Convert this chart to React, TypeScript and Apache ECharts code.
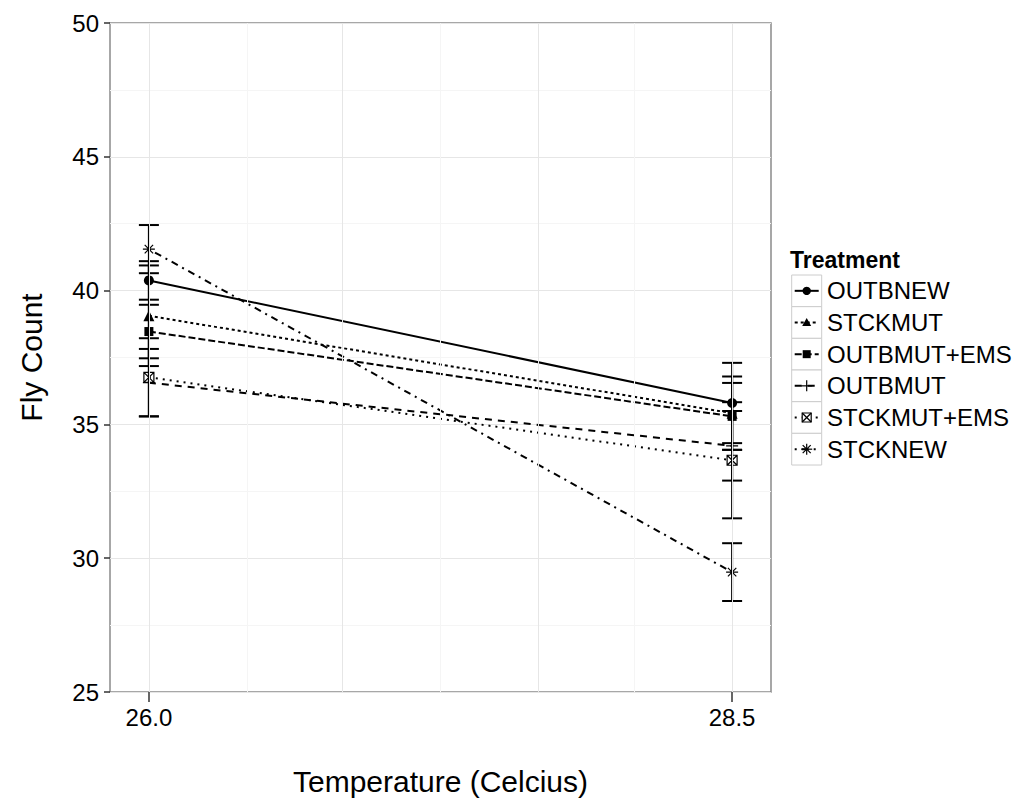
import React, { useEffect, useRef } from "react";
import * as echarts from "echarts";

// ---------------- data ----------------
const temperatures = [26.0, 28.5];
const treatments = ["OUTBNEW", "STCKMUT", "OUTBMUT+EMS", "OUTBMUT", "STCKMUT+EMS", "STCKNEW"];

const meanOUTBNEW = [40.38, 35.8];
const meanSTCKMUT = [39.06, 35.42];
const meanOUTBMUT_EMS = [38.47, 35.3];
const meanOUTBMUT = [36.56, 34.2];
const meanSTCKMUT_EMS = [36.76, 33.66];
const meanSTCKNEW = [41.55, 29.48];

const seOUTBNEW = [0.72, 1.5];
const seSTCKMUT = [1.88, 1.37];
const seOUTBMUT_EMS = [1.0, 1.25];
const seOUTBMUT = [1.26, 1.3];
const seSTCKMUT_EMS = [1.46, 2.17];
const seSTCKNEW = [0.9, 1.08];

const means = [meanOUTBNEW, meanSTCKMUT, meanOUTBMUT_EMS, meanOUTBMUT, meanSTCKMUT_EMS, meanSTCKNEW];
const ses = [seOUTBNEW, seSTCKMUT, seOUTBMUT_EMS, seOUTBMUT, seSTCKMUT_EMS, seSTCKNEW];

const xTickValues = [26.0, 28.5];
const xMajorGrid = [26.0, 26.8333, 27.6667, 28.5];
const xMinorGrid = [26.4167, 27.25, 28.0833];
const yMin = 25;
const yMax = 50;
const yStep = 5;

// ---------------- styles ----------------
const FONT = '"Liberation Sans", Arial, Helvetica, sans-serif';
const PLUS = "path://M5,0L5,10M0,5L10,5";
const SQX = "path://M0,0L10,0L10,10L0,10ZM0,0L10,10M10,0L0,10";
const AST = "path://M5,0L5,10M0,5L10,5M1.5,1.5L8.5,8.5M8.5,1.5L1.5,8.5";

type Sty = { symbol: string; size: number; dash: any; stroked: boolean; kind: string };
const styles: Sty[] = [
  { symbol: "circle", size: 10, dash: "solid", stroked: false, kind: "circle" },
  { symbol: "triangle", size: 11, dash: [3, 3], stroked: false, kind: "triangle" },
  { symbol: "rect", size: 9, dash: [7, 3], stroked: false, kind: "rect" },
  { symbol: PLUS, size: 12, dash: [7, 6], stroked: true, kind: "plus" },
  { symbol: SQX, size: 10, dash: [2, 5], stroked: true, kind: "sqx" },
  { symbol: AST, size: 12, dash: [2, 5, 7, 5], stroked: true, kind: "ast" },
];

function legendSymbol(kind: string, cx: number, cy: number): any[] {
  const s = { stroke: "#000", lineWidth: 1.2 };
  switch (kind) {
    case "circle":
      return [{ type: "circle", shape: { cx, cy, r: 4.2 }, style: { fill: "#000" } }];
    case "triangle":
      return [{ type: "polygon", shape: { points: [[cx, cy - 4.5], [cx + 4.5, cy + 3.5], [cx - 4.5, cy + 3.5]] }, style: { fill: "#000" } }];
    case "rect":
      return [{ type: "rect", shape: { x: cx - 4, y: cy - 4, width: 8, height: 8 }, style: { fill: "#000" } }];
    case "plus":
      return [
        { type: "line", shape: { x1: cx - 5.5, y1: cy, x2: cx + 5.5, y2: cy }, style: s },
        { type: "line", shape: { x1: cx, y1: cy - 5.5, x2: cx, y2: cy + 5.5 }, style: s },
      ];
    case "sqx":
      return [
        { type: "rect", shape: { x: cx - 4.5, y: cy - 4.5, width: 9, height: 9 }, style: { fill: "#fff", stroke: "#000", lineWidth: 1.2 } },
        { type: "line", shape: { x1: cx - 4.5, y1: cy - 4.5, x2: cx + 4.5, y2: cy + 4.5 }, style: s },
        { type: "line", shape: { x1: cx + 4.5, y1: cy - 4.5, x2: cx - 4.5, y2: cy + 4.5 }, style: s },
      ];
    default:
      return [
        { type: "line", shape: { x1: cx - 5.5, y1: cy, x2: cx + 5.5, y2: cy }, style: s },
        { type: "line", shape: { x1: cx, y1: cy - 5.5, x2: cx, y2: cy + 5.5 }, style: s },
        { type: "line", shape: { x1: cx - 4, y1: cy - 4, x2: cx + 4, y2: cy + 4 }, style: s },
        { type: "line", shape: { x1: cx + 4, y1: cy - 4, x2: cx - 4, y2: cy + 4 }, style: s },
      ];
  }
}

export default function App() {
  const ref = useRef<HTMLDivElement>(null);

  useEffect(() => {
    if (!ref.current) return;
    const chart = echarts.init(ref.current, null, { renderer: "svg" });

    const errData: any[] = [];
    treatments.forEach((_, i) => {
      temperatures.forEach((t, j) => {
        errData.push([t, means[i][j] - ses[i][j], means[i][j] + ses[i][j]]);
      });
    });

    const lineSeries = treatments.map((name, i) => {
      const st = styles[i];
      return {
        name,
        type: "line",
        z: 3,
        data: temperatures.map((t, j) => [t, means[i][j]]),
        symbol: st.symbol,
        symbolSize: st.size,
        showSymbol: true,
        lineStyle: { color: "#000", width: 2, type: st.dash },
        itemStyle: st.stroked
          ? { color: "rgba(0,0,0,0)", borderColor: "#000", borderWidth: 1.2 }
          : { color: "#000", borderWidth: 0 },
        emphasis: { disabled: true },
      };
    });

    const gridMarks = [
      ...xMinorGrid.map((v) => ({ xAxis: v, lineStyle: { color: "#f5f5f5", width: 1, type: "solid" } })),
      ...xMajorGrid.map((v) => ({ xAxis: v, lineStyle: { color: "#e6e6e6", width: 1, type: "solid" } })),
    ];

    // legend (ggplot style)
    const rowTop = 275;
    const rowH = 31.67;
    const boxX = 791.7;
    const boxW = 30;
    const legendEls: any[] = [
      {
        type: "text",
        x: 790,
        y: 260,
        style: { text: "Treatment", fontSize: 23, fontWeight: "bold", fontFamily: FONT, fill: "#000", align: "left", verticalAlign: "middle" },
      },
    ];
    treatments.forEach((name, i) => {
      const y0 = rowTop + i * rowH;
      const cy = y0 + rowH / 2;
      const st = styles[i];
      legendEls.push({
        type: "rect",
        shape: { x: boxX, y: y0, width: boxW, height: rowH },
        style: { fill: "#fff", stroke: "#cccccc", lineWidth: 1 },
      });
      legendEls.push({
        type: "line",
        shape: { x1: boxX + 3, y1: cy, x2: boxX + boxW - 3, y2: cy },
        style: { stroke: "#000", lineWidth: 2, lineDash: st.dash === "solid" ? null : st.dash },
      });
      legendSymbol(st.kind, boxX + boxW / 2, cy).forEach((e) => legendEls.push(e));
      legendEls.push({
        type: "text",
        x: 827,
        y: cy,
        style: { text: name, fontSize: 24, fontFamily: FONT, fill: "#000", align: "left", verticalAlign: "middle" },
      });
    });

    chart.setOption({
      animation: false,
      backgroundColor: "#fff",
      textStyle: { fontFamily: FONT },
      grid: {
        left: 110,
        right: 245,
        top: 23,
        bottom: 112,
        show: true,
        borderColor: "#8a8a8a",
        borderWidth: 1.5,
        backgroundColor: "#fff",
      },
      xAxis: {
        type: "value",
        min: 25.8333,
        max: 28.6667,
        name: "Temperature (Celcius)",
        nameLocation: "middle",
        nameGap: 74,
        nameTextStyle: { fontSize: 30, color: "#000", fontFamily: FONT },
        axisLine: { show: false },
        splitLine: { show: false },
        axisTick: { show: true, customValues: xTickValues, length: 10, lineStyle: { color: "#333", width: 1.5 } },
        axisLabel: {
          customValues: xTickValues,
          formatter: (v: number) => v.toFixed(1),
          fontSize: 24,
          color: "#000",
          margin: 13,
          fontFamily: FONT,
        },
      },
      yAxis: {
        type: "value",
        min: yMin,
        max: yMax,
        interval: yStep,
        name: "Fly Count",
        nameLocation: "middle",
        nameGap: 64,
        nameTextStyle: { fontSize: 30, color: "#000", fontFamily: FONT },
        axisLine: { show: false },
        axisTick: { show: true, length: 6, lineStyle: { color: "#333", width: 1.5 } },
        axisLabel: { fontSize: 24, color: "#000", margin: 11, fontFamily: FONT },
        splitLine: { show: true, lineStyle: { color: "#e6e6e6", width: 1 } },
        minorTick: { show: false, splitNumber: 2 },
        minorSplitLine: { show: true, lineStyle: { color: "#f5f5f5", width: 1 } },
      },
      graphic: legendEls,
      series: [
        {
          type: "line",
          name: "grid",
          data: [],
          z: 1,
          silent: true,
          markLine: {
            silent: true,
            symbol: ["none", "none"],
            label: { show: false },
            emphasis: { disabled: true },
            data: gridMarks,
          },
        },
        {
          type: "custom",
          name: "errorbars",
          z: 2,
          silent: true,
          data: errData,
          encode: { x: 0, y: [1, 2] },
          renderItem: (params: any, api: any) => {
            const x = api.value(0);
            const lo = api.coord([x, api.value(1)]);
            const hi = api.coord([x, api.value(2)]);
            const w = 10;
            const st = { stroke: "#000", lineWidth: 2 };
            return {
              type: "group",
              children: [
                { type: "line", shape: { x1: lo[0], y1: lo[1], x2: hi[0], y2: hi[1] }, style: st },
                { type: "line", shape: { x1: lo[0] - w, y1: lo[1], x2: lo[0] + w, y2: lo[1] }, style: st },
                { type: "line", shape: { x1: hi[0] - w, y1: hi[1], x2: hi[0] + w, y2: hi[1] }, style: st },
              ],
            };
          },
        },
        ...lineSeries,
      ],
    });

    return () => chart.dispose();
  }, []);

  return (
    <div
      ref={ref}
      style={{ position: "fixed", left: 0, top: 0, width: 1016, height: 804, background: "#fff" }}
    />
  );
}
